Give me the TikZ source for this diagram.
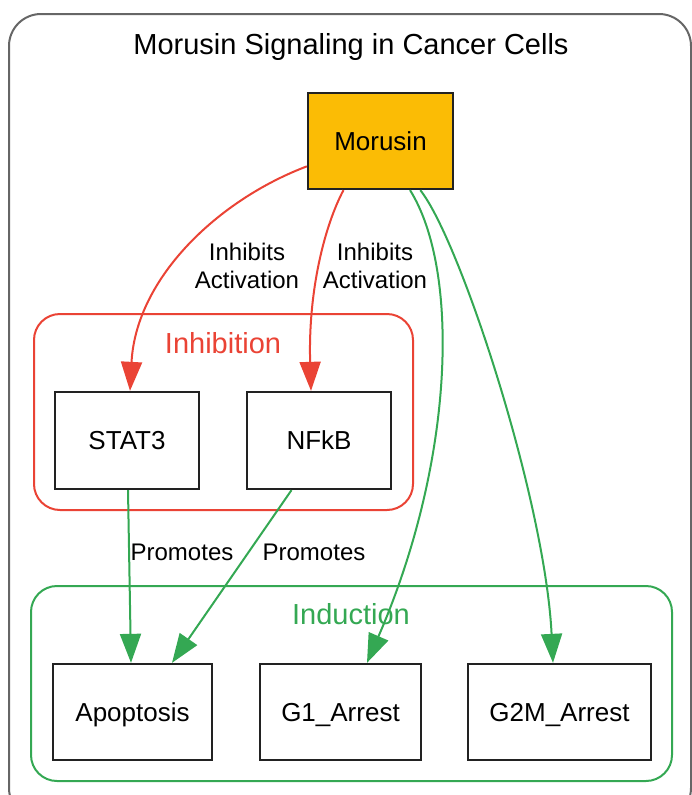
\documentclass[tikz,border=0pt]{standalone}
\usepackage{fontspec}
\setmainfont{Liberation Sans}
\usetikzlibrary{arrows.meta,calc}
\definecolor{gred}{HTML}{EA4335}
\definecolor{ggreen}{HTML}{34A853}
\definecolor{gyellow}{HTML}{FBBC05}
\definecolor{frame}{HTML}{666666}
\definecolor{ink}{HTML}{222222}
\begin{document}
\begin{tikzpicture}[x=1pt,y=-1pt,
  box/.style={draw=ink,line width=2.3pt,inner sep=0pt,minimum height=96pt,text height=18.6pt,text depth=0pt,font=\fontsize{26}{30}\selectfont,text=black},
  cluster/.style={rounded corners=26pt,line width=2pt},
  clabel/.style={font=\fontsize{29}{34}\selectfont},
  elabel/.style={font=\fontsize{24}{28}\selectfont,align=center,text=black,inner sep=0pt},
  redarrow/.style={draw=gred,line width=2pt,-{Triangle[length=29pt,width=21pt]}},
  greenarrow/.style={draw=ggreen,line width=2pt,-{Triangle[length=29pt,width=21pt]}}]
\useasboundingbox (0,0) rectangle (692,795);
% outer frame
\draw[draw=frame,line width=2pt,rounded corners=32pt] (9,14) rectangle (691,820);
\node[font=\fontsize{29}{34}\selectfont,text height=20.8pt,text depth=0pt] (title) at (351,44) {Morusin Signaling in Cancer Cells};
% clusters
\draw[cluster,draw=gred] (34,314) rectangle (413,510);
\node[clabel,text=gred] (inhlab) at (223,343) {Inhibition};
\draw[cluster,draw=ggreen] (31,586) rectangle (672,781);
\node[clabel,text=ggreen] (indlab) at (351,614) {Induction};
% nodes
\node[box,fill=gyellow,minimum width=145pt] (morusin) at (380.5,141) {Morusin};
\node[box,minimum width=144pt,minimum height=97pt] (stat3) at (127,440.5) {STAT3};
\node[box,minimum width=144pt,minimum height=97pt] (nfkb) at (319,440.5) {NFkB};
\node[box,minimum width=159pt] (apop) at (132.5,712) {Apoptosis};
\node[box,minimum width=161pt] (g1) at (340.5,712) {G1\_Arrest};
\node[box,minimum width=183pt] (g2m) at (559.5,712) {G2M\_Arrest};
% edges
\draw[redarrow] (morusin.199) .. controls (218,200) and (136,278) .. ([xshift=3pt]stat3.north);
\draw[redarrow] (morusin.233) .. controls (325,225) and (308,290) .. ([xshift=-8pt]nfkb.north);
\draw[greenarrow] (morusin.301.6) .. controls (460,270) and (455,460) .. ([xshift=26.5pt]g1.north);
\draw[greenarrow] (morusin.309.5) .. controls (460,240) and (545,500) .. ([xshift=-6.5pt]g2m.north);
\draw[greenarrow] ([xshift=1pt]stat3.south) -- ([xshift=-1.5pt]apop.north);
\draw[greenarrow] (nfkb.241) -- ([xshift=39.5pt]apop.north);
% edge labels
\node[elabel] (l1) at (247,266) {Inhibits\\Activation};
\node[elabel] (l2) at (375,266) {Inhibits\\Activation};
\node[elabel] (l3) at (182,552) {Promotes};
\node[elabel] (l4) at (314,552) {Promotes};
\end{tikzpicture}
\end{document}
